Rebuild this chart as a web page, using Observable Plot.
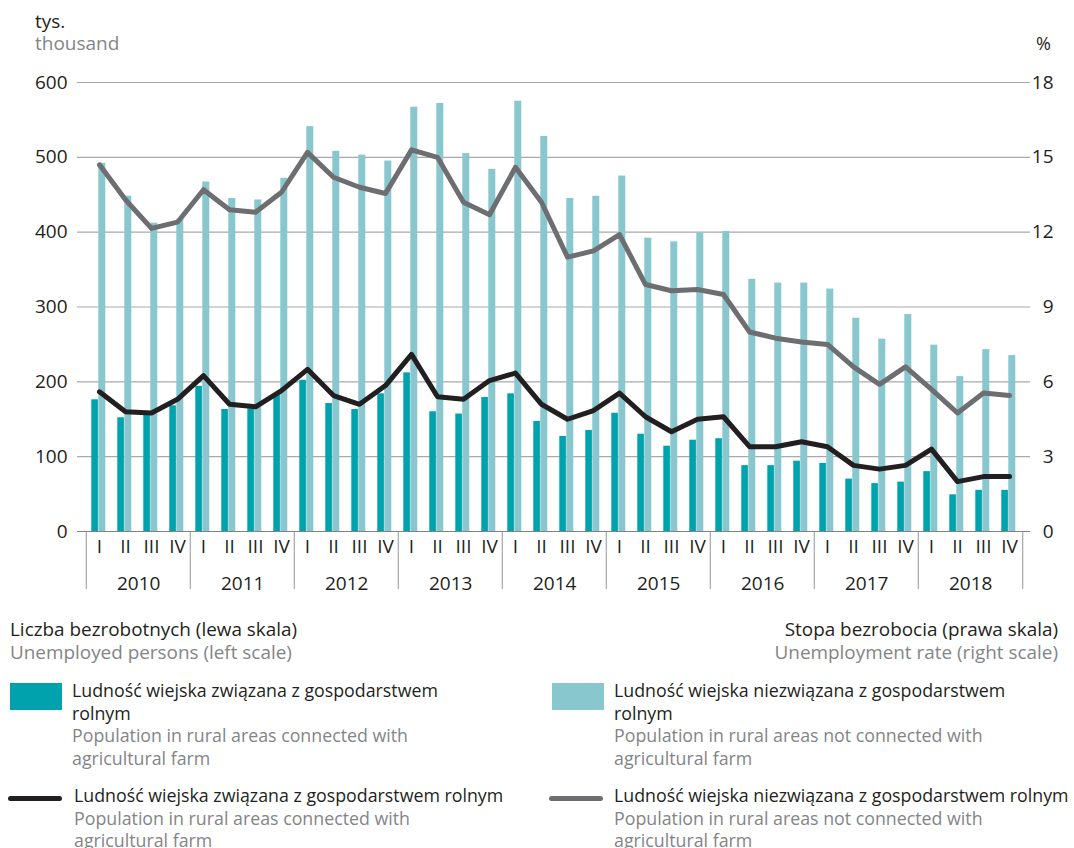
<!DOCTYPE html>
<html>
<head>
<meta charset="utf-8">
<script src="https://cdn.jsdelivr.net/npm/d3@7"></script>
<script src="https://cdn.jsdelivr.net/npm/@observablehq/plot@0.6"></script>
<style>
  html, body { margin: 0; padding: 0; background: #fff; }
  #root { position: relative; width: 1074px; height: 848px; overflow: hidden; font-family: "Open Sans", sans-serif; color: #231f20; }
  .t { position: absolute; white-space: nowrap; font-size: 17.8px; line-height: 22.7px; }
  .h { font-size: 18.9px; line-height: 23px; height: 23px; }
  .g { color: #838588; }
  .sw { position: absolute; width: 52px; height: 27px; }
  .ln { position: absolute; width: 54px; height: 5px; border-radius: 3px; }
  #chart { position: absolute; left: 0; top: 60px; }
</style>
</head>
<body>
<div id="root">
  <div class="t" style="left:35px; top:10px; font-size:19px; line-height:22px;">tys.</div>
  <div class="t g" style="left:35px; top:32px; font-size:19px; line-height:22px;">thousand</div>
  <div class="t" style="left:1036px; top:32px; font-size:18px; line-height:22px;">%</div>
  <div id="chart"></div>

  <div class="t h" style="left:10px; top:618px;">Liczba bezrobotnych (lewa skala)</div>
  <div class="t h g" style="left:10px; top:641px;">Unemployed persons (left scale)</div>
  <div class="t h" style="right:16px; top:618px; text-align:right;">Stopa bezrobocia (prawa skala)</div>
  <div class="t h g" style="right:16px; top:641px; text-align:right;">Unemployment rate (right scale)</div>

  <div class="sw" style="left:10px; top:683px; background:#00a3ad;"></div>
  <div class="t" style="left:72px; top:679px;">Ludność wiejska związana z gospodarstwem<br>rolnym<br><span class="g">Population in rural areas connected with<br>agricultural farm</span></div>

  <div class="sw" style="left:552px; top:683px; background:#89c7ce;"></div>
  <div class="t" style="left:614px; top:679px;">Ludność wiejska niezwiązana z gospodarstwem<br>rolnym<br><span class="g">Population in rural areas not connected with<br>agricultural farm</span></div>

  <div class="ln" style="left:8px; top:796px; background:#231f20;"></div>
  <div class="t" style="left:74px; top:784px;">Ludność wiejska związana z gospodarstwem rolnym<br><span class="g">Population in rural areas connected with<br>agricultural farm</span></div>

  <div class="ln" style="left:549px; top:796px; background:#6d6e71;"></div>
  <div class="t" style="left:614px; top:784px;">Ludność wiejska niezwiązana z gospodarstwem rolnym<br><span class="g">Population in rural areas not connected with<br>agricultural farm</span></div>
</div>
<script>
const years = [2010, 2011, 2012, 2013, 2014, 2015, 2016, 2017, 2018];
const quarters = ["I", "II", "III", "IV"];

// Unemployed persons, thousand (left scale)
const connected = [176,152,158,168, 194,163,164,182, 202,171,163,184, 212,160,157,179, 184,147,127,135, 158,130,114,122, 124,88,88,94, 91,70,64,66, 80,49,55,55];
const notConnected = [492,448,412,417, 467,445,443,472, 541,508,503,495, 567,572,505,484, 575,528,445,448, 475,392,387,399, 401,337,332,332, 324,285,257,290, 249,207,243,235];

// Unemployment rate, % (right scale)
const rateConnected = [5.6,4.8,4.75,5.3, 6.25,5.1,5.0,5.65, 6.5,5.45,5.1,5.85, 7.1,5.4,5.3,6.05, 6.35,5.1,4.5,4.85, 5.55,4.6,4.0,4.5, 4.6,3.4,3.4,3.6, 3.4,2.65,2.5,2.65, 3.3,2.0,2.2,2.2];
const rateNotConnected = [14.7,13.3,12.15,12.4, 13.7,12.9,12.8,13.6, 15.2,14.2,13.8,13.55, 15.3,15.0,13.2,12.7, 14.6,13.2,11.0,11.25, 11.9,9.9,9.65,9.7, 9.5,8.0,7.75,7.6, 7.5,6.6,5.9,6.6, 5.7,4.75,5.55,5.45];

const leftTicks = [0, 100, 200, 300, 400, 500, 600];
const rightTicks = [0, 3, 6, 9, 12, 15, 18];

const keys = years.flatMap(y => quarters.map(q => `${y}-${q}`));
const rows = keys.map((key, i) => ({
  key, conn: connected[i], notc: notConnected[i], rc: rateConnected[i], rn: rateNotConnected[i]
}));
const k = 600 / 18; // right scale -> left scale
const half = (1074 - 77 - 44) / keys.length / 2;

const chart = Plot.plot({
  width: 1074,
  height: 540,
  marginLeft: 77,
  marginRight: 44,
  marginTop: 22,
  marginBottom: 69,
  x: { type: "band", domain: keys, padding: 0, label: null },
  y: { domain: [0, 600], label: null },
  style: { fontFamily: "Open Sans, sans-serif", fontSize: "19px", color: "#231f20", background: "transparent" },
  marks: [
    Plot.ruleY(leftTicks.filter(d => d > 0), { stroke: "#a7a9ac", strokeWidth: 1.2 }),
    Plot.barY(rows, { x: "key", y: "notc", fill: "#89c7ce", insetLeft: 12.3, insetRight: 6.7 }),
    Plot.barY(rows, { x: "key", y: "conn", fill: "#00a3ad", insetLeft: 5.3, insetRight: 14.1 }),
    Plot.ruleY([0], { stroke: "#808285", strokeWidth: 1.2 }),
    Plot.line(rows, { x: "key", y: d => d.rn * k, stroke: "#6d6e71", strokeWidth: 5, strokeLinejoin: "round" }),
    Plot.line(rows, { x: "key", y: d => d.rc * k, stroke: "#231f20", strokeWidth: 5, strokeLinejoin: "round" }),
    Plot.axisY({ ticks: leftTicks, tickSize: 0, tickPadding: 10, tickFormat: d => d, label: null }),
    Plot.axisY({ anchor: "right", ticks: rightTicks.map(v => v * k), tickSize: 0, tickPadding: 23, textAnchor: "end", tickFormat: d => Math.round(d / k), label: null }),
    Plot.axisX({ tickSize: 0, tickPadding: 8, tickFormat: d => d.split("-")[1], label: null }),
    Plot.axisX({ ticks: keys.filter(d => d.endsWith("-I")), tickSize: 58, dx: -half, tickFormat: () => "", stroke: "#939598", label: null }),
    Plot.axisX({ ticks: [keys[keys.length - 1]], tickSize: 58, dx: half, tickFormat: () => "", stroke: "#939598", label: null }),
    Plot.axisX({ ticks: keys.filter(d => d.endsWith("-II")), tickSize: 0, tickPadding: 45, dx: half, tickFormat: d => d.split("-")[0], label: null })
  ]
});
document.getElementById("chart").appendChild(chart);
</script>
</body>
</html>
